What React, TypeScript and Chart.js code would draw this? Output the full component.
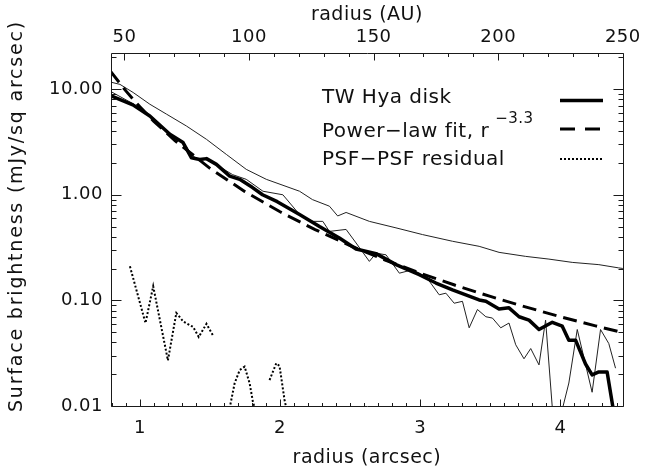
import React, { useEffect, useRef } from 'react';
import { Chart, registerables } from 'chart.js';

Chart.register(...registerables);

// ---- data (radius in arcsec, surface brightness in mJy/sq arcsec) ----
const diskX = [0.799, 0.95, 1.071, 1.214, 1.308, 1.368, 1.427, 1.475, 1.546, 1.641, 1.712, 1.804, 1.875, 1.98, 2.139, 2.281, 2.423, 2.542, 2.685, 2.827, 2.993, 3.112, 3.23, 3.325, 3.42, 3.468, 3.562, 3.633, 3.705, 3.776, 3.847, 3.942, 4.013, 4.06, 4.108, 4.179, 4.226, 4.274, 4.333, 4.385];
const diskY = [8.6, 7.1, 5.57, 3.74, 3.12, 2.24, 2.16, 2.2, 1.94, 1.5, 1.4, 1.17, 1.0, 0.86, 0.65, 0.5, 0.39, 0.307, 0.277, 0.218, 0.175, 0.146, 0.126, 0.113, 0.101, 0.098, 0.083, 0.085, 0.07, 0.065, 0.053, 0.062, 0.057, 0.042, 0.042, 0.025, 0.0197, 0.021, 0.021, 0.008];

const fitX = [0.79, 0.9, 1.0, 1.1, 1.25, 1.5, 1.75, 2.0, 2.25, 2.5, 2.75, 3.0, 3.25, 3.5, 3.75, 4.0, 4.25, 4.45];
const fitY = [14.8, 9.63, 6.8, 4.96, 3.26, 1.78, 1.07, 0.69, 0.468, 0.33, 0.241, 0.181, 0.139, 0.109, 0.0868, 0.07, 0.0574, 0.0493];

const upperX = [0.799, 0.858, 0.952, 1.071, 1.19, 1.332, 1.475, 1.617, 1.759, 1.902, 2.139, 2.231, 2.352, 2.411, 2.471, 2.637, 2.827, 3.016, 3.23, 3.42, 3.562, 3.752, 3.918, 4.084, 4.274, 4.416, 4.452];
const upperY = [11.6, 11.1, 9.3, 7.2, 5.8, 4.48, 3.35, 2.41, 1.74, 1.4, 1.08, 0.9, 0.78, 0.63, 0.68, 0.56, 0.486, 0.42, 0.363, 0.325, 0.285, 0.261, 0.246, 0.229, 0.218, 0.203, 0.2];

const lowerX = [0.799, 0.95, 1.071, 1.214, 1.32, 1.368, 1.404, 1.475, 1.546, 1.662, 1.759, 1.878, 2.02, 2.139, 2.233, 2.305, 2.352, 2.471, 2.542, 2.637, 2.685, 2.756, 2.851, 2.945, 3.041, 3.135, 3.183, 3.242, 3.301, 3.349, 3.408, 3.468, 3.515, 3.574, 3.633, 3.681, 3.74, 3.788, 3.847, 3.894, 3.954, 4.001, 4.06, 4.12, 4.226, 4.286, 4.345, 4.393];
const lowerY = [9.4, 7.3, 5.7, 3.8, 3.0, 2.4, 2.2, 2.15, 1.92, 1.55, 1.4, 1.08, 1.0, 0.65, 0.56, 0.56, 0.45, 0.47, 0.35, 0.234, 0.28, 0.27, 0.181, 0.195, 0.168, 0.113, 0.117, 0.094, 0.098, 0.055, 0.082, 0.07, 0.068, 0.055, 0.061, 0.038, 0.028, 0.035, 0.0245, 0.065, 0.006, 0.008, 0.0165, 0.053, 0.0135, 0.053, 0.039, 0.0228];

const psfX = [0.929, 1.04, 1.095, 1.2, 1.26, 1.31, 1.38, 1.42, 1.475, 1.52, 1.58, 1.64, 1.676, 1.712, 1.747, 1.783, 1.806, 1.82, 1.88, 1.925, 1.973, 1.996, 2.032, 2.045];
const psfY: (number | null)[] = [0.21, 0.061, 0.136, 0.027, 0.076, 0.063, 0.056, 0.045, 0.06, 0.047, null, 0.0095, 0.0164, 0.0219, 0.0236, 0.0164, 0.011, 0.0095, null, 0.0176, 0.0254, 0.024, 0.0114, 0.0095];

// ---- axes ----
const xTickValues = [1, 2, 3, 4];
const xTickLabels = ['1', '2', '3', '4'];
const auTickValues = [50, 100, 150, 200, 250];
const auTickLabels = ['50', '100', '150', '200', '250'];
const yTickValues = [0.01, 0.1, 1, 10];
const yTickLabels = ['0.01', '0.10', '1.00', '10.00'];
const yMinorValues = [0.02, 0.03, 0.04, 0.05, 0.06, 0.07, 0.08, 0.09, 0.2, 0.3, 0.4, 0.5, 0.6, 0.7, 0.8, 0.9, 2, 3, 4, 5, 6, 7, 8, 9, 20];
const xMinorValues = [0.8, 0.9, 1.1, 1.2, 1.3, 1.4, 1.5, 1.6, 1.7, 1.8, 1.9, 2.1, 2.2, 2.3, 2.4, 2.5, 2.6, 2.7, 2.8, 2.9, 3.1, 3.2, 3.3, 3.4, 3.5, 3.6, 3.7, 3.8, 3.9, 4.1, 4.2, 4.3, 4.4];
const auMinorValues = [60, 70, 80, 90, 110, 120, 130, 140, 160, 170, 180, 190, 210, 220, 230, 240];

const X_MIN = 0.794;
const X_MAX = 4.445;
const AU_MIN = 44.6;
const AU_MAX = 250;
const Y_MIN = 0.01;
const Y_MAX = 22;

const legendLabels = ['TW Hya disk', 'Power\u2212law fit, r', 'PSF\u2212PSF residual'];
const legendSup = '\u22123.3';

const FONT = '"DejaVu Sans", "Liberation Sans", sans-serif';
const INK = '#111';

const pts = (xs: number[], ys: (number | null)[]) => xs.map((x, i) => ({ x, y: ys[i] }));

const decor = {
  id: 'decor',
  beforeDraw(chart: any) {
    chart.ctx.letterSpacing = '0.5px';
  },
  afterDraw(chart: any) {
    const ctx: CanvasRenderingContext2D = chart.ctx;
    const { left, right, top, bottom } = chart.chartArea;
    const sx = chart.scales.x;
    const sy = chart.scales.y;
    const sa = chart.scales.xAU;
    const L = Math.round(left) + 0.5;
    const R = Math.round(right) + 0.5;
    const T = Math.round(top) + 0.5;
    const B = Math.round(bottom) + 0.5;
    ctx.save();
    ctx.setLineDash([]);
    ctx.strokeStyle = '#1a1a1a';
    ctx.lineWidth = 1;
    ctx.beginPath();
    ctx.rect(L, T, R - L, B - T);
    const xt = (v: number, len: number) => {
      const p = Math.round(sx.getPixelForValue(v)) + 0.5;
      ctx.moveTo(p, B);
      ctx.lineTo(p, B - len);
    };
    xTickValues.forEach((v) => xt(v, 7));
    xMinorValues.forEach((v) => xt(v, 3.5));
    const at = (v: number, len: number) => {
      const p = Math.round(sa.getPixelForValue(v)) + 0.5;
      ctx.moveTo(p, T);
      ctx.lineTo(p, T + len);
    };
    auTickValues.forEach((v) => at(v, 7));
    auMinorValues.forEach((v) => at(v, 3.5));
    const yt = (v: number, len: number) => {
      const p = Math.round(sy.getPixelForValue(v)) + 0.5;
      if (p < T - 0.1 || p > B + 0.1) return;
      ctx.moveTo(L, p);
      ctx.lineTo(L + len, p);
      ctx.moveTo(R, p);
      ctx.lineTo(R - len, p);
    };
    yTickValues.forEach((v) => yt(v, 10));
    yMinorValues.forEach((v) => yt(v, 5));
    ctx.stroke();

    // axis titles
    ctx.fillStyle = INK;
    ctx.letterSpacing = '0.5px';
    ctx.font = `19px ${FONT}`;
    ctx.textAlign = 'center';
    ctx.textBaseline = 'middle';
    ctx.fillText('radius (AU)', (left + right) / 2, 15);
    ctx.fillText('radius (arcsec)', (left + right) / 2, 458);
    ctx.save();
    ctx.translate(17, 216);
    ctx.rotate(-Math.PI / 2);
    ctx.letterSpacing = '1.8px';
    ctx.fillText('Surface brightness (mJy/sq arcsec)', 0, 0);
    ctx.restore();

    // legend
    ctx.textAlign = 'left';
    ctx.textBaseline = 'alphabetic';
    ctx.font = `20px ${FONT}`;
    ctx.letterSpacing = '0.5px';
    const lx = 322;
    ctx.fillText(legendLabels[0], lx, 103);
    ctx.fillText(legendLabels[1], lx, 137);
    const w1 = ctx.measureText(legendLabels[1]).width;
    ctx.fillText(legendLabels[2], lx, 165);
    ctx.font = `15px ${FONT}`;
    ctx.fillText(legendSup, lx + w1 + 6, 123);

    ctx.strokeStyle = '#000';
    ctx.lineCap = 'butt';
    ctx.lineWidth = 3.5;
    ctx.beginPath();
    ctx.moveTo(560, 100.5);
    ctx.lineTo(603, 100.5);
    ctx.stroke();
    ctx.lineWidth = 3;
    ctx.setLineDash([15, 10]);
    ctx.beginPath();
    ctx.moveTo(560, 129);
    ctx.lineTo(601, 129);
    ctx.stroke();
    ctx.lineWidth = 2;
    ctx.setLineDash([2, 2]);
    ctx.beginPath();
    ctx.moveTo(560, 159);
    ctx.lineTo(603, 159);
    ctx.stroke();
    ctx.restore();
  },
};

export default function App() {
  const ref = useRef<HTMLCanvasElement | null>(null);
  useEffect(() => {
    if (!ref.current) return;
    const base = { tension: 0, pointRadius: 0, fill: false, xAxisID: 'x', yAxisID: 'y', borderColor: '#000' };
    const chart = new Chart(ref.current, {
      type: 'line',
      data: {
        datasets: [
          { ...base, label: 'TW Hya disk', data: pts(diskX, diskY), borderWidth: 3.5, borderJoinStyle: 'round' },
          { ...base, label: 'Power-law fit', data: pts(fitX, fitY), borderWidth: 3, borderDash: [14, 7] },
          { ...base, label: 'upper', data: pts(upperX, upperY), borderWidth: 1, borderColor: '#222' },
          { ...base, label: 'lower', data: pts(lowerX, lowerY), borderWidth: 1, borderColor: '#222' },
          { ...base, label: 'PSF-PSF residual', data: pts(psfX, psfY), borderWidth: 2, borderDash: [2, 2], spanGaps: false },
        ] as any,
      },
      options: {
        responsive: false,
        animation: false,
        devicePixelRatio: 1,
        layout: { padding: { left: 0, right: 21, top: 0, bottom: 0 } },
        plugins: { legend: { display: false }, tooltip: { enabled: false }, title: { display: false } },
        scales: {
          x: {
            type: 'linear',
            position: 'bottom',
            min: X_MIN,
            max: X_MAX,
            grid: { display: false, drawTicks: false },
            border: { display: false },
            afterBuildTicks: (s: any) => { s.ticks = xTickValues.map((v) => ({ value: v })); },
            afterFit: (s: any) => { s.height = 66; },
            ticks: {
              autoSkip: false,
              maxRotation: 0,
              padding: 12,
              color: INK,
              font: { family: FONT, size: 18 },
              callback: (_v: any, i: number) => xTickLabels[i],
            },
          },
          xAU: {
            type: 'linear',
            position: 'top',
            min: AU_MIN,
            max: AU_MAX,
            grid: { display: false, drawTicks: false },
            border: { display: false },
            afterBuildTicks: (s: any) => { s.ticks = auTickValues.map((v) => ({ value: v })); },
            afterFit: (s: any) => { s.height = 53; },
            ticks: {
              autoSkip: false,
              maxRotation: 0,
              padding: 5,
              color: INK,
              font: { family: FONT, size: 18 },
              callback: (_v: any, i: number) => auTickLabels[i],
            },
          },
          y: {
            type: 'logarithmic',
            position: 'left',
            min: Y_MIN,
            max: Y_MAX,
            grid: { display: false, drawTicks: false },
            border: { display: false },
            afterBuildTicks: (s: any) => { s.ticks = yTickValues.map((v) => ({ value: v })); },
            afterFit: (s: any) => { s.width = 111; },
            ticks: {
              autoSkip: false,
              padding: 8,
              color: INK,
              font: { family: FONT, size: 18 },
              callback: (_v: any, i: number) => yTickLabels[i],
            },
          },
        },
      } as any,
      plugins: [decor],
    });
    return () => chart.destroy();
  }, []);
  return (
    <div style={{ position: 'fixed', left: 0, top: 0, width: 645, height: 472, background: '#fff' }}>
      <canvas ref={ref} width={645} height={472} style={{ width: 645, height: 472, display: 'block' }} />
    </div>
  );
}
